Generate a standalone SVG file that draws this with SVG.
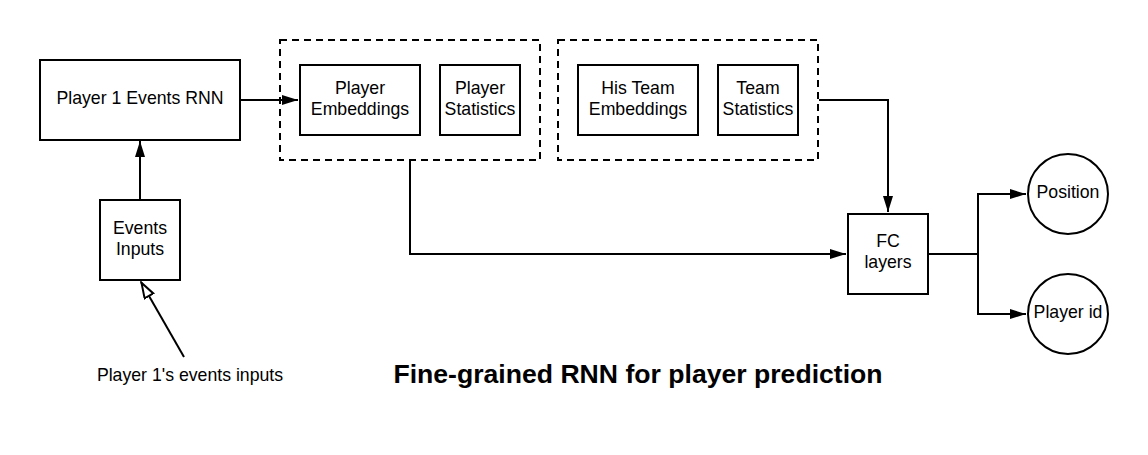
<svg xmlns="http://www.w3.org/2000/svg" width="1148" height="455" viewBox="0 0 1148 455">
<style>
.box{fill:#fff;stroke:#000;stroke-width:2}
.grp{fill:none;stroke:#000;stroke-width:2;stroke-dasharray:7 5}
.lbl{font-family:"Liberation Sans",Arial,sans-serif;font-size:17.7px;fill:#000;text-anchor:middle}
.title{font-family:"Liberation Sans",Arial,sans-serif;font-size:26.6px;font-weight:bold;fill:#000;text-anchor:middle}
.con{fill:none;stroke:#000;stroke-width:2}
</style>
<defs>
<marker id="arr" markerUnits="userSpaceOnUse" markerWidth="18" markerHeight="12" refX="16" refY="5" orient="auto">
<path d="M0,0 L16,5 L0,10 Z" fill="#000"/>
</marker>
<marker id="open" markerUnits="userSpaceOnUse" markerWidth="20" markerHeight="14" refX="17" refY="6" orient="auto">
<path d="M1,1 L16,6 L1,11 Z" fill="#fff" stroke="#000" stroke-width="2"/>
</marker>
</defs>
<rect width="1148" height="455" fill="#fff"/>
<g id="connectors">
<path class="con" d="M240,100 H298" marker-end="url(#arr)"/>
<path class="con" d="M140,200 V141" marker-end="url(#arr)"/>
<path class="con" d="M184,357 L141,282" marker-end="url(#open)"/>
<path class="con" d="M819,100 H888 V212" marker-end="url(#arr)"/>
<path class="con" d="M410,161 V254 H846" marker-end="url(#arr)"/>
<path class="con" d="M929,254 H978 V194 H1026" marker-end="url(#arr)"/>
<path class="con" d="M978,254 V314 H1026" marker-end="url(#arr)"/>
</g>
<g id="group-player">
<rect class="grp" x="280" y="40" width="260" height="120"/>
</g>
<g id="group-team">
<rect class="grp" x="558" y="40" width="260" height="120"/>
</g>
<g id="rnn">
<rect class="box" x="40" y="60" width="200" height="80"/>
<text class="lbl" x="140" y="104">Player 1 Events RNN</text>
</g>
<g id="events-inputs">
<rect class="box" x="100" y="200" width="80" height="80"/>
<text class="lbl" x="140" y="233.5">Events</text>
<text class="lbl" x="140" y="254.5">Inputs</text>
</g>
<g id="player-embeddings">
<rect class="box" x="300" y="65" width="120" height="70"/>
<text class="lbl" x="360" y="94">Player</text>
<text class="lbl" x="360" y="115">Embeddings</text>
</g>
<g id="player-statistics">
<rect class="box" x="440" y="65" width="80" height="70"/>
<text class="lbl" x="480" y="94">Player</text>
<text class="lbl" x="480" y="115">Statistics</text>
</g>
<g id="team-embeddings">
<rect class="box" x="578" y="65" width="120" height="70"/>
<text class="lbl" x="638" y="94">His Team</text>
<text class="lbl" x="638" y="115">Embeddings</text>
</g>
<g id="team-statistics">
<rect class="box" x="718" y="65" width="80" height="70"/>
<text class="lbl" x="758" y="94">Team</text>
<text class="lbl" x="758" y="115">Statistics</text>
</g>
<g id="fc-layers">
<rect class="box" x="848" y="214" width="80" height="80"/>
<text class="lbl" x="888" y="247">FC</text>
<text class="lbl" x="888" y="268">layers</text>
</g>
<g id="position">
<circle class="box" cx="1068" cy="194" r="40"/>
<text class="lbl" x="1068" y="198">Position</text>
</g>
<g id="player-id">
<circle class="box" cx="1068" cy="314" r="40"/>
<text class="lbl" x="1068" y="318">Player id</text>
</g>
<g id="events-label">
<text class="lbl" x="190" y="381">Player 1's events inputs</text>
</g>
<g id="title">
<text class="title" x="638" y="383">Fine-grained RNN for player prediction</text>
</g>
</svg>
